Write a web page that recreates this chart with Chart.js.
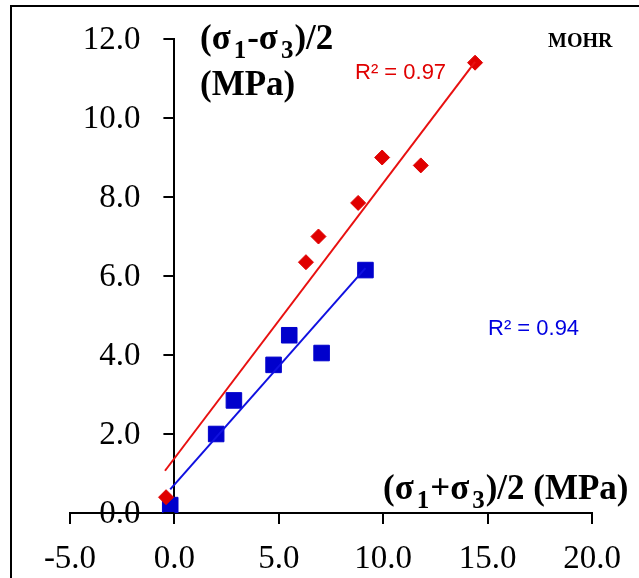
<!DOCTYPE html>
<html>
<head>
<meta charset="utf-8">
<script src="https://cdn.jsdelivr.net/npm/chart.js@4.4.1/dist/chart.umd.min.js"></script>
<style>
    html, body { margin: 0; padding: 0; background: #fff; }
    #wrap { width: 639px; height: 578px; position: relative; }
</style>
</head>
<body>
<div id="wrap"><canvas id="mohr"></canvas></div>
<script>
// red diamonds
const redX = [-0.4, 6.3, 6.9, 8.8, 9.95, 11.8, 14.4];
const redY = [0.4, 6.35, 7.0, 7.85, 9.0, 8.8, 11.4];
// blue squares
const blueX = [-0.2, 2.0, 2.85, 4.75, 5.5, 7.05, 9.15];
const blueY = [0.2, 2.0, 2.85, 3.75, 4.5, 4.05, 6.15];
// trend line ends
const redTrendX = [-0.45, 14.4];
const redTrendY = [1.07, 11.42];
const blueTrendX = [-0.2, 9.15];
const blueTrendY = [0.6, 6.2];

const xTicks = [-5, 0, 5, 10, 15, 20];
const yTicks = [0, 2, 4, 6, 8, 10, 12];

function pairs(xs, ys) {
    return xs.map(function (x, i) { return { x: x, y: ys[i] }; });
}

const serif = '"Liberation Serif", "Times New Roman", serif';
const sans = '"Liberation Sans", Arial, sans-serif';

// text with subscripts: parts = [[text, isSub, extraGap], ...]
function drawRich(ctx, x, y, parts, size) {
    parts.forEach(function (p) {
        const sub = p[1];
        ctx.font = 'bold ' + (sub ? 25 : size) + 'px ' + serif;
        ctx.fillText(p[0], x, sub ? y + 9 : y);
        x += ctx.measureText(p[0]).width + (p[2] || 0);
    });
}

const decorations = {
    id: 'decorations',
    afterDraw(chart) {
        const ctx = chart.ctx;
        ctx.save();
        ctx.strokeStyle = '#000';
        ctx.lineWidth = 2;
        ctx.strokeRect(11, 6, 800, 800);

        // y ticks and labels sit left of the x = 0 axis
        const ys = chart.scales.y;
        const axisX = chart.scales.x.getPixelForValue(0);
        ctx.fillStyle = '#000';
        ctx.font = '33px ' + serif;
        ctx.textAlign = 'right';
        ctx.textBaseline = 'middle';
        ys.ticks.forEach(function (t) {
            const py = Math.round(ys.getPixelForValue(t.value));
            ctx.beginPath();
            ctx.moveTo(axisX - 11, py);
            ctx.lineTo(axisX, py);
            ctx.stroke();
            ctx.fillText(t.value.toFixed(1), axisX - 34, py + 1);
        });

        ctx.textAlign = 'left';
        ctx.textBaseline = 'alphabetic';
        drawRich(ctx, 200, 49, [['(σ', 0, 3], ['1', 1, 1], ['-σ', 0, 3], ['3', 1, 1], [')/2', 0]], 35);
        drawRich(ctx, 200, 95, [['(MPa)', 0]], 35);
        drawRich(ctx, 383, 499, [['(σ', 0, 3], ['1', 1, 1], ['+σ', 0, 3], ['3', 1, 1], [')/2 (MPa)', 0]], 35);

        ctx.font = 'bold 20px ' + serif;
        ctx.fillText('MOHR', 548, 47);

        ctx.font = '22px ' + sans;
        ctx.fillStyle = '#e00000';
        ctx.fillText('R² = 0.97', 355, 79);
        ctx.fillStyle = '#0000e0';
        ctx.fillText('R² = 0.94', 488, 335);
        ctx.restore();
    }
};

new Chart(document.getElementById('mohr'), {
    type: 'scatter',
    data: {
        datasets: [
            {
                data: pairs(redTrendX, redTrendY),
                showLine: true,
                borderColor: '#e81010',
                borderWidth: 2,
                pointRadius: 0,
            },
            {
                data: pairs(blueTrendX, blueTrendY),
                showLine: true,
                borderColor: '#1010e0',
                borderWidth: 2,
                pointRadius: 0,
            },
            {
                data: pairs(redX, redY),
                pointStyle: 'rectRot',
                pointRadius: 7.5,
                backgroundColor: '#e00000',
                borderColor: '#e00000',
                borderWidth: 1,
            },
            {
                data: pairs(blueX, blueY),
                pointStyle: 'rect',
                pointRadius: 11,
                backgroundColor: '#0000cc',
                borderColor: '#0000cc',
                borderWidth: 1,
            },
        ],
    },
    options: {
        responsive: true,
        maintainAspectRatio: false,
        animation: false,
        layout: { padding: { left: 70, right: 47, top: 39, bottom: 65 } },
        plugins: { legend: { display: false }, tooltip: { enabled: false } },
        scales: {
            x: {
                type: 'linear',
                position: { y: 0 },
                min: -5,
                max: 20,
                afterBuildTicks: function (s) { s.ticks = xTicks.map(function (v) { return { value: v }; }); },
                grid: { display: true, drawOnChartArea: false, drawTicks: true, tickLength: 10, color: '#000', lineWidth: 2 },
                border: { display: true, color: '#000', width: 2 },
                ticks: {
                    color: '#000',
                    padding: 17,
                    maxRotation: 0,
                    font: { family: serif, size: 33 },
                    callback: function (v) { return v.toFixed(1); },
                },
            },
            y: {
                type: 'linear',
                position: { x: 0 },
                min: 0,
                max: 12,
                afterBuildTicks: function (s) { s.ticks = yTicks.map(function (v) { return { value: v }; }); },
                grid: { display: false },
                border: { display: true, color: '#000', width: 2 },
                ticks: { display: false },
            },
        },
    },
    plugins: [decorations],
});
</script>
</body>
</html>
